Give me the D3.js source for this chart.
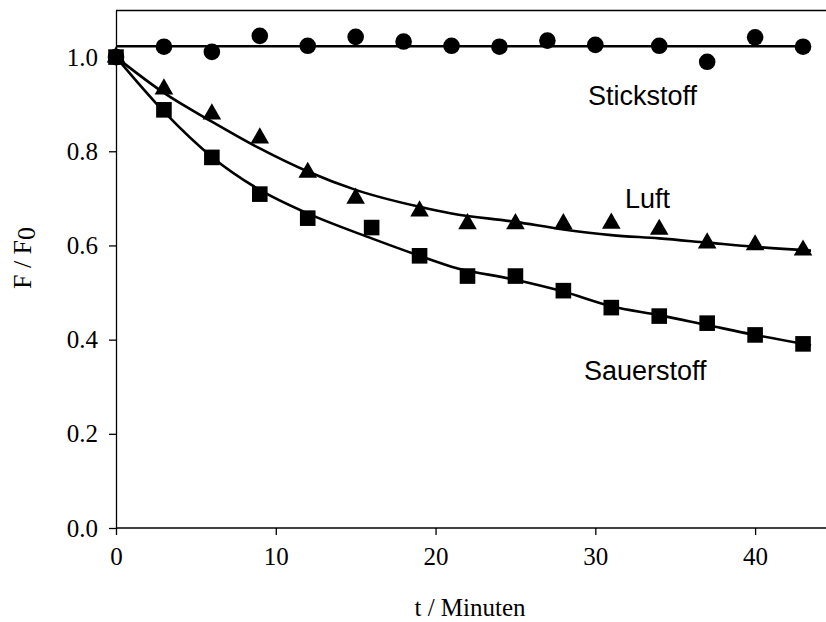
<!DOCTYPE html>
<html>
<head>
<meta charset="utf-8">
<script src="https://cdn.jsdelivr.net/npm/d3@7"></script>
<style>
  body { margin: 0; background: #fff; }
  svg { display: block; }
</style>
</head>
<body>
<svg id="chart" width="826" height="622"></svg>
<script>
// measured points (t in minutes, F/F0)
const stickT = [0, 3, 6, 9, 12, 15, 18, 21, 24, 27, 30, 34, 37, 40, 43];
const stickV = [1.0, 1.022, 1.011, 1.045, 1.024, 1.043, 1.033, 1.024, 1.022, 1.035, 1.026, 1.024, 0.990, 1.042, 1.022];

const luftT = [0, 3, 6, 9, 12, 15, 19, 22, 25, 28, 31, 34, 37, 40, 43];
const luftV = [1.0, 0.932, 0.879, 0.828, 0.755, 0.700, 0.673, 0.646, 0.646, 0.646, 0.647, 0.634, 0.605, 0.601, 0.590];

const sauerT = [0, 3, 6, 9, 12, 16, 19, 22, 25, 28, 31, 34, 37, 40, 43];
const sauerV = [1.0, 0.888, 0.787, 0.709, 0.658, 0.638, 0.578, 0.535, 0.535, 0.504, 0.468, 0.450, 0.435, 0.410, 0.391];

// fitted curves
const stickFitT = [0, 43.5];
const stickFitV = [1.023, 1.023];

const luftFitT = [0, 3, 6, 9, 12, 15, 19, 21, 25, 28, 31, 34, 37, 40, 43.5];
const luftFitV = [1.0, 0.924, 0.863, 0.806, 0.757, 0.718, 0.682, 0.668, 0.650, 0.634, 0.622, 0.615, 0.606, 0.597, 0.589];

const sauerFitT = [0, 3, 6, 9, 12, 16, 19, 21, 25, 28, 31, 34, 37, 40, 43.5];
const sauerFitV = [1.0, 0.884, 0.788, 0.718, 0.668, 0.615, 0.578, 0.555, 0.527, 0.502, 0.471, 0.452, 0.431, 0.410, 0.388];

const xTicks = [0, 10, 20, 30, 40];
const yTicks = [0.0, 0.2, 0.4, 0.6, 0.8, 1.0];

const svg = d3.select("#chart");
const plotLeft = 116, plotRight = 827, plotTop = 10, plotBottom = 528;

const x = d3.scaleLinear().domain([0, 44.5]).range([plotLeft, plotRight]);
const y = d3.scaleLinear().domain([0, 1.1]).range([plotBottom, plotTop]);

const serif = "'Liberation Serif', 'Times New Roman', serif";
const sans = "'Liberation Sans', Arial, sans-serif";

// frame: top line
svg.append("line")
  .attr("x1", plotLeft).attr("x2", 826)
  .attr("y1", plotTop + 0.5).attr("y2", plotTop + 0.5)
  .attr("stroke", "#000").attr("stroke-width", 1.3);

// x axis
const xAxis = svg.append("g")
  .attr("transform", "translate(0," + plotBottom + ")")
  .call(d3.axisBottom(x).tickValues(xTicks).tickSize(7).tickPadding(12).tickSizeOuter(0).tickFormat(d3.format("d")));

// y axis
const yAxis = svg.append("g")
  .attr("transform", "translate(" + plotLeft + ",0)")
  .call(d3.axisLeft(y).tickValues(yTicks).tickSize(7).tickPadding(11).tickSizeOuter(0).tickFormat(d3.format(".1f")));

[xAxis, yAxis].forEach(g => {
  g.select(".domain").attr("stroke", "#000").attr("stroke-width", 1.3);
  g.selectAll(".tick line").attr("stroke", "#000").attr("stroke-width", 1.3);
  g.selectAll(".tick text")
    .attr("fill", "#000")
    .style("font-family", serif)
    .style("font-size", "25px");
});
xAxis.select(".domain").attr("d", "M" + plotLeft + ",0H826");

// fit curves
const line = d3.line()
  .x(d => x(d[0]))
  .y(d => y(d[1]))
  .curve(d3.curveMonotoneX);

[[stickFitT, stickFitV], [luftFitT, luftFitV], [sauerFitT, sauerFitV]].forEach(([ts, vs]) => {
  svg.append("path")
    .datum(ts.map((t, i) => [t, vs[i]]))
    .attr("d", line)
    .attr("fill", "none")
    .attr("stroke", "#000")
    .attr("stroke-width", 2.6);
});

// markers
svg.append("g").selectAll("circle")
  .data(stickT.map((t, i) => [t, stickV[i]]))
  .enter()
  .append("circle")
  .attr("cx", d => x(d[0]))
  .attr("cy", d => y(d[1]))
  .attr("r", 8.3)
  .attr("fill", "#000");

const tri = d3.symbol().type(d3.symbolTriangle).size(150);
svg.append("g").selectAll("path")
  .data(luftT.map((t, i) => [t, luftV[i]]))
  .enter()
  .append("path")
  .attr("d", tri)
  .attr("transform", d => "translate(" + x(d[0]) + "," + y(d[1]) + ")")
  .attr("fill", "#000");

const sq = 15.6;
svg.append("g").selectAll("rect")
  .data(sauerT.map((t, i) => [t, sauerV[i]]))
  .enter()
  .append("rect")
  .attr("x", d => x(d[0]) - sq / 2)
  .attr("y", d => y(d[1]) - sq / 2)
  .attr("width", sq)
  .attr("height", sq)
  .attr("fill", "#000");

// series labels
svg.append("text").attr("x", 588).attr("y", 105).text("Stickstoff")
  .style("font-family", sans).style("font-size", "27px");
svg.append("text").attr("x", 625).attr("y", 208).text("Luft")
  .style("font-family", sans).style("font-size", "27px");
svg.append("text").attr("x", 584).attr("y", 380).text("Sauerstoff")
  .style("font-family", sans).style("font-size", "27px");

// axis titles
svg.append("text")
  .attr("x", 470).attr("y", 616)
  .attr("text-anchor", "middle")
  .style("font-family", serif).style("font-size", "25px")
  .text("t / Minuten");

const yt = svg.append("text")
  .attr("transform", "translate(31,258) rotate(-90)")
  .attr("text-anchor", "middle")
  .style("font-family", serif).style("font-size", "26px");
yt.append("tspan").text("F / F");
yt.append("tspan").attr("dy", 4).text("0");
</script>
</body>
</html>
